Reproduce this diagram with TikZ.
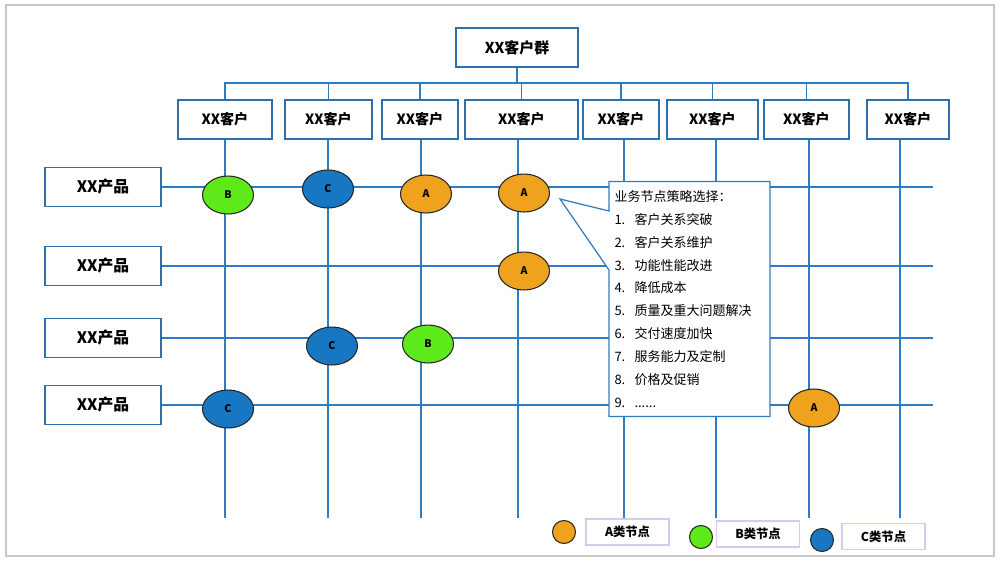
\documentclass[tikz,border=0pt]{standalone}
\usepackage{fontspec}
\setmainfont{Noto Sans CJK SC}
\usetikzlibrary{shapes}
\definecolor{lblue}{HTML}{2E7DC2}
\definecolor{bblue}{HTML}{2F6FAA}
\definecolor{fillA}{HTML}{EFA21E}
\definecolor{fillB}{HTML}{5EEA1A}
\definecolor{fillC}{HTML}{1777C2}
\definecolor{lilac}{HTML}{DCC8EC}
\tikzstyle{cb}=[rectangle, draw=bblue, line width=0.9pt, fill=white, minimum height=0.78cm, inner sep=0pt, font=\fontsize{8}{8}\selectfont\bfseries]
\tikzstyle{pb}=[cb, minimum width=2.32cm, font=\fontsize{9}{9}\selectfont\bfseries]
\tikzstyle{sn}=[ellipse, draw=black!85, line width=0.6pt, minimum width=1.02cm, minimum height=0.76cm, inner sep=0pt, font=\fontsize{6}{6}\selectfont\bfseries]
\tikzstyle{ln}=[draw=lblue, line width=0.8pt]
\tikzstyle{lg}=[circle, draw=black!85, line width=0.6pt, minimum size=0.46cm, inner sep=0pt]
\tikzstyle{lb}=[rectangle, draw=lilac, line width=0.7pt, minimum width=1.66cm, minimum height=0.52cm, font=\fontsize{7}{7}\selectfont\bfseries]
\newcommand{\nr}[1]{\makebox[0.4cm][l]{#1}}
\begin{document}
\begin{tikzpicture}[x=0.02cm, y=-0.02cm]
\useasboundingbox (0,0) rectangle (1001,562);
\draw[black!22, line width=1.2pt] (6,5) rectangle (994,556);
% customers
\node[cb, minimum width=2.44cm, font=\fontsize{8.5}{8.5}\selectfont\bfseries] (top) at (517,47.5) {XX客户群};
\coordinate (bus) at (517,83);
\foreach \i/\x/\w/\v in {1/225/94/225, 2/328.5/87/328, 3/420/76/421, 4/521.5/113/518, 5/621/76/624, 6/712.5/91/716, 7/806.5/85/809, 8/908/82/900}{
  \node[cb, minimum width=\w*0.02cm] (c\i) at (\x,119.5) {XX客户};
  \coordinate (e\i) at (\v,518);
}
\draw[ln] (top) -- (bus);
\foreach \i in {1,...,8}{
  \draw[ln] (c\i.north) |- (bus);
  \draw[ln] (c\i.south -| e\i) -- (e\i);
}
% products
\foreach \i/\y in {1/187, 2/266, 3/338, 4/405}{
  \node[pb] (p\i) at (103,\y) {XX产品};
  \coordinate (r\i) at (933,\y);
  \draw[ln] (p\i) -- (r\i);
}
% nodes
\node[sn, fill=fillB] (n11) at (228,195) {B};
\node[sn, fill=fillC] (n12) at (328,189) {C};
\node[sn, fill=fillA] (n13) at (426,194) {A};
\node[sn, fill=fillA] (n14) at (524,193) {A};
\node[sn, fill=fillA] (n24) at (524,271) {A};
\node[sn, fill=fillC] (n32) at (332,346) {C};
\node[sn, fill=fillB] (n33) at (428,344) {B};
\node[sn, fill=fillC] (n41) at (228,409) {C};
\node[sn, fill=fillA] (n47) at (814,408) {A};
% strategy list
\node[rectangle callout, draw=lblue, line width=0.7pt, fill=white, minimum width=3.22cm, minimum height=4.7cm,
  inner xsep=0.1cm, text width=3.0cm, align=left, font=\fontsize{7.4}{13}\selectfont,
  callout absolute pointer={(560,199)}, callout pointer width=1.18cm] (tips) at (689.5,299)
  {业务节点策略选择：\\
   \nr{1.}客户关系突破\\
   \nr{2.}客户关系维护\\
   \nr{3.}功能性能改进\\
   \nr{4.}降低成本\\
   \nr{5.}质量及重大问题解决\\
   \nr{6.}交付速度加快\\
   \nr{7.}服务能力及定制\\
   \nr{8.}价格及促销\\
   \nr{9.}......};
% legend
\node[lg, fill=fillA] (ka) at (564,532) {};
\node[lb] (la) at (627.5,532) {A类节点};
\node[lg, fill=fillB] (kb) at (701,537) {};
\node[lb] (lb) at (758,534) {B类节点};
\node[lg, fill=fillC] (kc) at (822,540) {};
\node[lb] (lc) at (883.5,536.5) {C类节点};
\end{tikzpicture}
\end{document}
